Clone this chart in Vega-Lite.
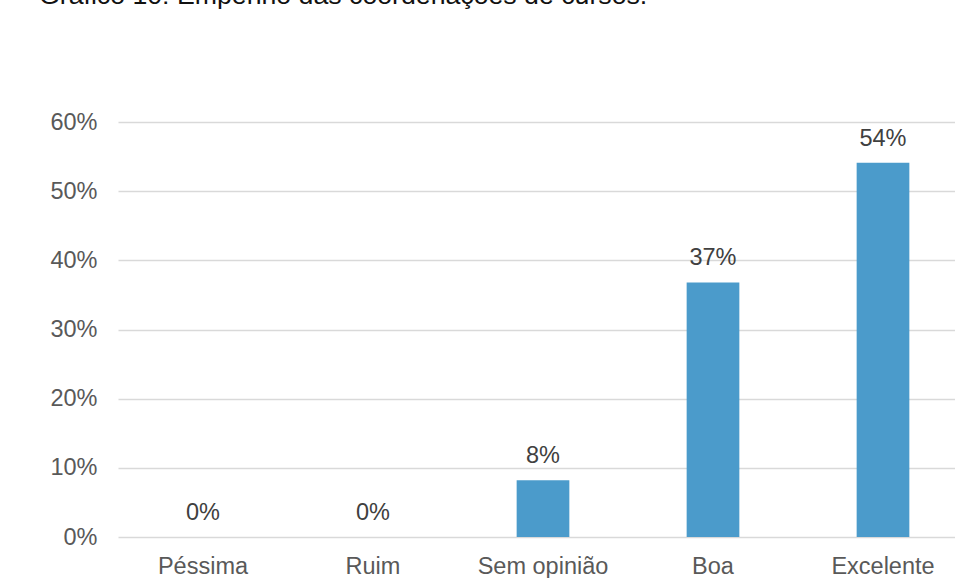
{
  "$schema": "https://vega.github.io/schema/vega-lite/v6.json",
  "autosize": {"type": "none"},
  "padding": {"left": 118, "top": 122, "right": 0, "bottom": 41},
  "width": 850,
  "height": 415,
  "background": "white",
  "title": {
    "text": "Gráfico 10: Empenho das coordenações de cursos.",
    "anchor": "start",
    "frame": "group",
    "dx": -79,
    "offset": 79,
    "baseline": "alphabetic",
    "font": "Liberation Sans",
    "fontSize": 26.7,
    "fontWeight": "normal",
    "color": "#111111"
  },
  "data": {
    "values": [
      {"categoria": "Péssima", "valor": 0.0},
      {"categoria": "Ruim", "valor": 0.0},
      {"categoria": "Sem opinião", "valor": 0.082},
      {"categoria": "Boa", "valor": 0.368},
      {"categoria": "Excelente", "valor": 0.541}
    ]
  },
  "encoding": {
    "x": {
      "field": "categoria",
      "type": "nominal",
      "sort": null,
      "scale": {"paddingInner": 0.69, "paddingOuter": 0.345},
      "axis": {
        "title": null,
        "labelAngle": 0,
        "domain": false,
        "ticks": false,
        "grid": false,
        "labelPadding": 17,
        "labelFont": "Liberation Sans",
        "labelFontSize": 23.5,
        "labelColor": "#595959"
      }
    },
    "y": {
      "field": "valor",
      "type": "quantitative",
      "scale": {"domain": [0, 0.6], "nice": false},
      "axis": {
        "title": null,
        "format": ".0%",
        "values": [0, 0.1, 0.2, 0.3, 0.4, 0.5, 0.6],
        "domain": false,
        "ticks": false,
        "grid": true,
        "gridColor": "#D9D9D9",
        "gridWidth": 1.3,
        "labelPadding": 21,
        "labelFont": "Liberation Sans",
        "labelFontSize": 23.5,
        "labelColor": "#595959"
      }
    }
  },
  "layer": [
    {"mark": {"type": "bar", "color": "#4B9BCB"}},
    {
      "mark": {
        "type": "text",
        "baseline": "alphabetic",
        "dy": -17,
        "font": "Liberation Sans",
        "fontSize": 23.5,
        "color": "#404040"
      },
      "encoding": {"text": {"field": "valor", "type": "quantitative", "format": ".0%"}}
    }
  ],
  "config": {"view": {"stroke": null}}
}
